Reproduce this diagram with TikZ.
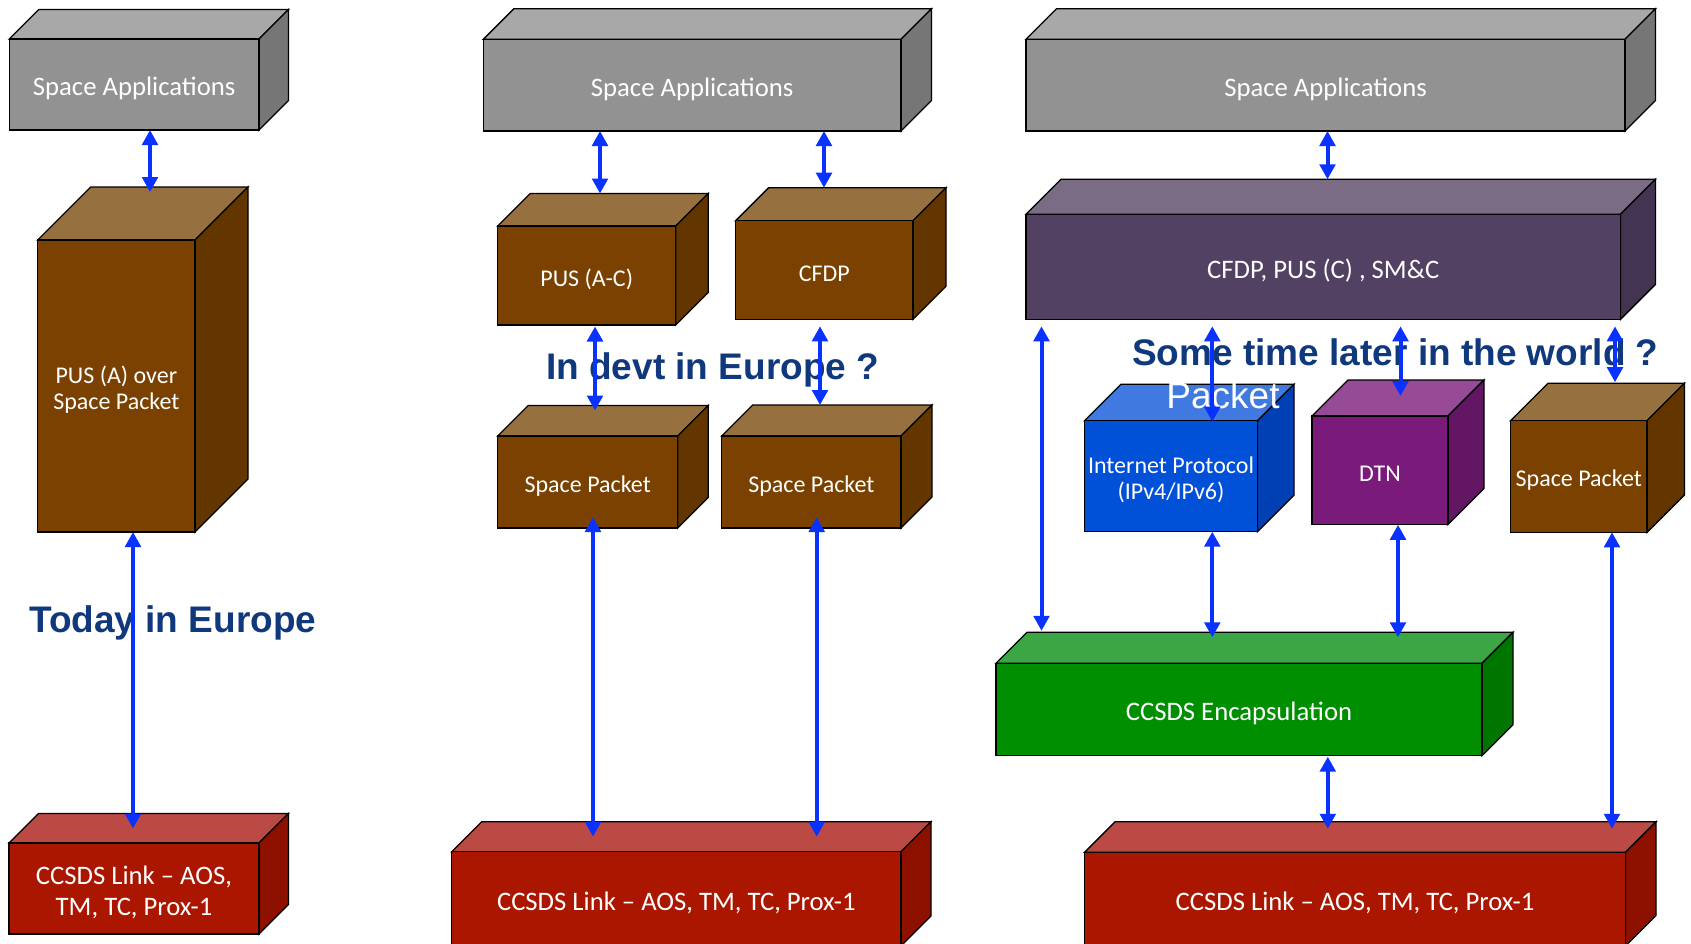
\documentclass[tikz,border=0pt]{standalone}
\usepackage{fontspec}
\setmainfont{Carlito}
\newfontfamily\headfont{Liberation Sans}
\usetikzlibrary{arrows.meta,calc}

% face colours: F = front, T = top, S = side
\definecolor{grayF}{RGB}{146,146,146}
\definecolor{grayT}{RGB}{168,168,168}
\definecolor{grayS}{RGB}{118,118,118}
\definecolor{brnF}{RGB}{122,65,0}
\definecolor{brnT}{RGB}{151,112,64}
\definecolor{brnS}{RGB}{99,54,0}
\definecolor{redF}{RGB}{170,22,0}
\definecolor{redT}{RGB}{187,74,68}
\definecolor{redS}{RGB}{142,17,0}
\definecolor{purF}{RGB}{82,65,99}
\definecolor{purT}{RGB}{122,108,132}
\definecolor{purS}{RGB}{67,52,82}
\definecolor{ipF}{RGB}{0,80,216}
\definecolor{ipT}{RGB}{64,121,224}
\definecolor{ipS}{RGB}{0,64,180}
\definecolor{dtnF}{RGB}{122,26,122}
\definecolor{dtnT}{RGB}{151,74,150}
\definecolor{dtnS}{RGB}{99,22,99}
\definecolor{grnF}{RGB}{0,143,0}
\definecolor{grnT}{RGB}{60,166,68}
\definecolor{grnS}{RGB}{0,118,0}
\definecolor{arrowblue}{RGB}{10,50,255}
\definecolor{headblue}{RGB}{16,56,124}

\tikzset{
  face/.style={draw=black, line width=1.3pt, line join=miter},
  frontface/.style={face, inner sep=0pt, outer sep=0pt, anchor=north west},
  facetext/.style={text=white, align=center, inner sep=0pt},
  lab/.style={font=\fontsize{26.7}{31.7}\selectfont},
  slab/.style={font=\fontsize{24}{26}\selectfont},
  head/.style={font=\headfont\bfseries\fontsize{37}{40}\selectfont, text=headblue, inner sep=0pt},
  link/.style={draw=arrowblue, line width=4pt,
    {Triangle[width=15.5pt,length=15pt]}-{Triangle[width=15.5pt,length=15pt]}}
}

% #1 name, #2 #3 front top-left, #4 #5 front bottom-right, #6 depth,
% #7 colour prefix, #8 label style, #9 label
\newcommand{\cuboid}[9]{%
  \filldraw[face, fill=#7T] (#2,#3) -- (#2+#6,#3-#6) -- (#4+#6,#3-#6) -- (#4,#3) -- cycle;
  \filldraw[face, fill=#7S] (#4,#3) -- (#4+#6,#3-#6) -- (#4+#6,#5-#6) -- (#4,#5) -- cycle;
  \node[frontface, fill=#7F, minimum width={#4-#2}, minimum height={#5-#3}] (#1) at (#2,#3) {};
  \node[facetext, #8] (#1-text) at ([yshift=-4pt]#1.center) {#9};
  \coordinate (#1-back) at ($(#1.north)+(#6,-#6)$);
}

% double-headed connector at abscissa #1 from anchor #2 (offset #3) to anchor #4 (offset #5)
\newcommand{\bidir}[5]{%
  \draw[link] ($(#1,0 |- #2)+(0,#3)$) -- ($(#1,0 |- #4)+(0,#5)$);
}

\begin{document}
\begin{tikzpicture}[x=1pt, y=-1pt]
\useasboundingbox (0,0) rectangle (1691,943);
\fill[white] (0,0) rectangle (1691,943);
\clip (0,0) rectangle (1691,943);

% ---- today ----
\cuboid{saL}{9.3}{39}{259}{130}{29.5}{gray}{lab}{Space Applications}
\cuboid{pusA}{37.7}{240}{195}{532}{53}{brn}{slab}{PUS (A) over\\Space Packet}
\cuboid{linkL}{9}{843}{259}{934}{29.5}{red}{lab}{CCSDS Link – AOS,\\TM, TC, Prox-1}

% ---- in development ----
\cuboid{saM}{483.3}{39.3}{901}{131}{30.5}{gray}{lab}{Space Applications}
\cuboid{pusAC}{497.7}{226}{675.7}{325}{32.5}{brn}{slab}{PUS (A-C)}
\cuboid{cfdpM}{735.7}{220.7}{913}{319.3}{33}{brn}{slab}{CFDP}
\cuboid{spM1}{497.7}{436}{677.7}{528}{30.5}{brn}{slab}{Space Packet}
\cuboid{spM2}{721.7}{436}{901}{528}{31}{brn}{slab}{Space Packet}
\cuboid{linkM}{451.7}{851.7}{901}{946}{30}{red}{lab}{CCSDS Link – AOS, TM, TC, Prox-1}

% ---- later ----
\cuboid{saR}{1026}{39.3}{1625}{131}{30.5}{gray}{lab}{Space Applications}
\cuboid{mgmt}{1026}{214.3}{1620.5}{319.3}{35}{pur}{lab}{CFDP, PUS (C) , SM\&C}
\cuboid{ip}{1084.5}{420.7}{1257.5}{531.7}{36.5}{ip}{slab}{Internet Protocol\\(IPv4/IPv6)}
\cuboid{dtn}{1312}{416}{1448}{524.3}{36}{dtn}{slab}{DTN}
\cuboid{spR}{1510.5}{420.7}{1647}{532.3}{37.5}{brn}{slab}{Space Packet}
\cuboid{encap}{996}{663.3}{1482}{755.7}{31}{grn}{lab}{CCSDS Encapsulation}
\cuboid{linkR}{1084.5}{852.3}{1625.5}{946}{30.5}{red}{lab}{CCSDS Link – AOS, TM, TC, Prox-1}

% ---- headings ----
\node[head, anchor=base west] (today) at (29,632) {Today in Europe};
\node[head, anchor=base west] (devt) at (546,379.3) {In devt in Europe ?};
\node[head, anchor=base west] (later) at (1132,365.7) {Some time later in the world ?};
\node[font=\headfont\fontsize{37}{40}\selectfont, text=white, anchor=base, inner sep=0pt] (pkt) at (1223,408.3) {Packet};

% ---- connectors ----
\bidir{150}{saL.south}{0}{pusA-back}{5}
\bidir{133}{pusA.south}{0}{linkL-back}{15}

\bidir{600}{saM.south}{0}{pusAC-back}{0}
\bidir{824}{saM.south}{0}{cfdpM-back}{0}
\bidir{595}{pusAC.south}{1.5}{spM1-back}{5}
\bidir{820}{cfdpM.south}{7}{spM2-back}{0}
\bidir{593}{spM1.south}{-11}{linkM-back}{15}
\bidir{816.7}{spM2.south}{-11}{linkM-back}{15}

\bidir{1327.5}{saR.south}{0}{mgmt-back}{0}
\bidir{1041.5}{mgmt.south}{7}{encap-back}{-1.5}
\bidir{1212.3}{mgmt.south}{7}{ip.north}{1}
\bidir{1400.5}{mgmt.south}{7}{dtn-back}{16}
\bidir{1615}{mgmt.south}{7}{spR-back}{-1}
\bidir{1212.3}{ip.south}{0}{encap-back}{5}
\bidir{1398}{dtn.south}{0.5}{encap-back}{5}
\bidir{1612}{spR.south}{0}{linkR-back}{7}
\bidir{1327.8}{encap.south}{1}{linkR-back}{7}
\end{tikzpicture}
\end{document}
